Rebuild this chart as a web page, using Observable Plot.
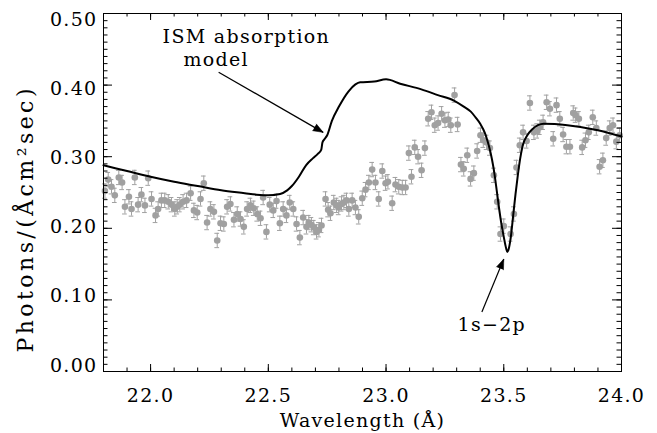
<!DOCTYPE html>
<html>
<head>
<meta charset="utf-8">
<script src="https://cdn.jsdelivr.net/npm/d3@7"></script>
<script src="https://cdn.jsdelivr.net/npm/@observablehq/plot@0.6"></script>
<style>
  html, body { margin: 0; padding: 0; background: #fff; }
  #chart svg { display: block; }
</style>
</head>
<body>
<div id="chart"></div>
<script>
// ---- Data ----
const wavelength = [
  21.806,21.820,21.834,21.848,21.865,21.879,21.891,21.908,21.919,21.933,
  21.947,21.961,21.976,21.990,22.004,22.021,22.032,22.046,22.060,22.075,
  22.089,22.103,22.113,22.124,22.138,22.153,22.170,22.184,22.198,22.212,
  22.226,22.240,22.254,22.269,22.283,22.297,22.311,22.325,22.339,22.354,
  22.368,22.382,22.396,22.410,22.424,22.438,22.453,22.467,
  22.478,22.492,22.506,22.521,22.535,22.549,22.563,22.577,22.591,22.606,
  22.620,22.634,22.648,22.662,22.672,22.683,22.693,22.705,22.715,22.726,
  22.743,22.754,22.764,22.778,22.790,22.799,22.811,22.821,22.832,22.842,
  22.856,22.870,22.884,22.899,22.913,22.927,22.941,22.955,22.969,22.984,
  22.998,23.008,23.026,23.040,23.054,23.069,23.083,
  23.097,23.108,23.122,23.136,23.151,23.165,23.179,23.193,23.207,23.221,
  23.236,23.250,23.264,23.275,23.291,23.304,23.318,23.330,23.345,23.359,
  23.373,23.387,23.401,23.413,23.427,23.441,23.458,23.472,23.486,23.500,
  23.529,23.543,
  23.554,23.568,23.582,23.597,23.611,23.628,23.642,23.653,23.667,23.682,
  23.696,23.710,23.724,23.738,23.752,23.766,23.781,23.795,23.805,23.819,
  23.833,23.847,23.861,23.878,23.893,23.907,23.921,23.935,23.950,23.964,
  23.978,23.992
];
const flux = [
  0.252,0.268,0.258,0.246,0.271,0.264,0.230,0.244,0.227,0.271,
  0.233,0.247,0.232,0.270,0.241,0.218,0.227,0.239,0.239,0.237,
  0.233,0.227,0.230,0.233,0.237,0.239,0.249,0.225,0.222,0.241,
  0.263,0.208,0.227,0.223,0.183,0.207,0.206,0.230,0.234,0.212,
  0.220,0.213,0.202,0.227,0.232,0.228,0.220,0.214,
  0.243,0.195,0.233,0.225,0.238,0.207,0.227,0.218,0.236,0.227,
  0.206,0.187,0.215,0.202,0.208,0.205,0.201,0.195,0.198,0.204,
  0.241,0.226,0.221,0.236,0.232,0.229,0.234,0.236,0.239,0.227,
  0.239,0.229,0.216,0.242,0.254,0.264,0.282,0.264,0.241,0.280,
  0.263,0.265,0.235,0.261,0.258,0.257,0.257,
  0.305,0.272,0.313,0.300,0.281,0.312,0.353,0.362,0.344,0.347,
  0.360,0.351,0.352,0.344,0.386,0.345,0.289,0.283,0.302,0.269,
  0.277,0.308,0.330,0.323,0.320,0.312,0.274,0.237,0.192,0.203,
  0.192,0.220,
  0.285,0.316,0.334,0.322,0.375,0.334,0.336,0.341,0.348,0.376,
  0.367,0.325,0.372,0.353,0.331,0.314,0.314,0.361,0.358,0.353,
  0.313,0.323,0.334,0.355,0.340,0.286,0.295,0.326,0.340,0.344,
  0.321,0.330
];
const fluxError = 0.010;

const modelWavelength = [
  21.80,21.90,22.00,22.10,22.20,22.30,22.40,22.45,22.50,22.55,
  22.58,22.60,22.63,22.66,22.69,22.71,22.725,22.73,22.74,22.75,
  22.77,22.80,22.84,22.87,22.89,22.95,23.00,23.06,23.15,23.22,
  23.29,23.33,23.36,23.38,23.40,23.42,23.43,23.44,23.45,23.46,
  23.47,23.48,23.49,23.50,23.51,23.515,23.52,23.53,23.54,23.55,
  23.56,23.57,23.58,23.60,23.62,23.67,23.77,23.90,24.00
];
const modelFlux = [
  0.288,0.280,0.272,0.265,0.259,0.253,0.249,0.247,0.246,0.248,
  0.253,0.259,0.272,0.288,0.298,0.304,0.310,0.320,0.325,0.330,
  0.350,0.370,0.391,0.401,0.404,0.405,0.408,0.402,0.394,0.386,
  0.378,0.370,0.363,0.355,0.346,0.333,0.323,0.311,0.296,0.277,
  0.253,0.228,0.206,0.188,0.172,0.167,0.170,0.188,0.218,0.248,
  0.275,0.298,0.315,0.330,0.338,0.346,0.344,0.337,0.328
];

const xMajorTicks = [22.0, 22.5, 23.0, 23.5, 24.0];
const yMajorTicks = [0.0, 0.1, 0.2, 0.3, 0.4, 0.5];
const xMinorTicks = d3.range(21.8, 24.0001, 0.1);
const yMinorTicks = d3.range(0, 0.5001, 0.01);

const xTitle = "Wavelength (\u00C5)";
const yTitle = "Photons/(\u00C5cm\u00B2sec)";
const annotationText = [
  {label: "ISM absorption", x: 22.051, y: 0.467},
  {label: "model",          x: 22.140, y: 0.4355},
  {label: "1s\u22122p",     x: 23.3035, y: 0.065}
];
const arrowLines = [
  {x1: 22.289, y1: 0.418, x2: 22.733, y2: 0.334},
  {x1: 23.407, y1: 0.083, x2: 23.500, y2: 0.157}
];

// ---- Layout ----
const W = 657, H = 433;
const margin = {left: 103, right: 36, top: 13, bottom: 62};
const plotW = W - margin.left - margin.right;
const plotH = H - margin.top - margin.bottom;
const xDomain = [21.8, 24.0], yDomain = [0, 0.5];
const grey = "#a0a0a0";
const capHalf = 0.010;

const points = wavelength.map((x, i) => ({x, y: flux[i]}));
const model = modelWavelength.map((x, i) => ({x, y: modelFlux[i]}));

const xs = Plot.scale({x: {domain: xDomain, range: [margin.left, W - margin.right]}});
const ys = Plot.scale({y: {domain: yDomain, range: [H - margin.bottom, margin.top]}});
const headRotate = a => {
  const dx = xs.apply(a.x2) - xs.apply(a.x1);
  const dy = ys.apply(a.y2) - ys.apply(a.y1);
  return Math.atan2(dx, -dy) * 180 / Math.PI;
};
// y title placed left of the frame, slightly below its middle (as in the reference)
const yTitlePos = [{label: yTitle, x: xs.invert(25), y: ys.invert(220)}];
// IDL-style y tick labels sit slightly toward the middle of the axis
const yLabelPos = v => ys.invert(19 + (0.5 - v) * 692);

const chart = Plot.plot({
  width: W,
  height: H,
  marginLeft: margin.left,
  marginRight: margin.right,
  marginTop: margin.top,
  marginBottom: margin.bottom,
  x: {domain: xDomain},
  y: {domain: yDomain, axis: null},
  style: {fontFamily: "'DejaVu Serif', serif", fontSize: "19px", letterSpacing: "1.3px", background: "white", color: "black", overflow: "visible"},
  marks: [
    // error bars
    Plot.ruleX(points, {x: "x", y1: d => d.y - fluxError, y2: d => d.y + fluxError, stroke: grey, strokeWidth: 1}),
    Plot.ruleY(points, {y: d => d.y + fluxError, x1: d => d.x - capHalf, x2: d => d.x + capHalf, stroke: grey, strokeWidth: 1}),
    Plot.ruleY(points, {y: d => d.y - fluxError, x1: d => d.x - capHalf, x2: d => d.x + capHalf, stroke: grey, strokeWidth: 1}),
    Plot.dot(points, {x: "x", y: "y", r: 3.3, fill: grey, stroke: null}),
    // model curve
    Plot.line(model, {x: "x", y: "y", stroke: "black", strokeWidth: 2, curve: "monotone-x"}),
    // inward ticks on all four sides
    Plot.tickX(xMinorTicks, {x: d => d, insetTop: plotH - 3.5, stroke: "black"}),
    Plot.tickX(xMinorTicks, {x: d => d, insetBottom: plotH - 3.5, stroke: "black"}),
    Plot.tickX(xMajorTicks, {x: d => d, insetTop: plotH - 7, stroke: "black"}),
    Plot.tickX(xMajorTicks, {x: d => d, insetBottom: plotH - 7, stroke: "black"}),
    Plot.tickY(yMinorTicks, {y: d => d, insetRight: plotW - 4.5, stroke: "black"}),
    Plot.tickY(yMinorTicks, {y: d => d, insetLeft: plotW - 4.5, stroke: "black"}),
    Plot.tickY(yMajorTicks, {y: d => d, insetRight: plotW - 9, stroke: "black"}),
    Plot.tickY(yMajorTicks, {y: d => d, insetLeft: plotW - 9, stroke: "black"}),
    Plot.frame({stroke: "black", strokeWidth: 1}),
    // tick labels
    Plot.axisX(xMajorTicks, {anchor: "bottom", tickSize: 0, tickPadding: 17, tickFormat: d3.format(".1f"), label: null}),
    Plot.text(yMajorTicks, {y: yLabelPos, text: d3.format(".2f"), frameAnchor: "left", textAnchor: "end", lineAnchor: "middle", dx: -6, fill: "black"}),
    // axis titles
    Plot.text([xTitle], {frameAnchor: "bottom", textAnchor: "middle", lineAnchor: "middle", dy: 49, fill: "black"}),
    Plot.text(yTitlePos, {x: "x", y: "y", text: "label", textAnchor: "middle", lineAnchor: "middle", rotate: -90, fontSize: 22, fill: "black"}),
    // annotations
    Plot.text(annotationText, {x: "x", y: "y", text: "label", textAnchor: "start", lineAnchor: "middle", fill: "black"}),
    Plot.link(arrowLines, {x1: "x1", y1: "y1", x2: "x2", y2: "y2", stroke: "black", strokeWidth: 1.2}),
    Plot.vector(arrowLines, {x: "x2", y: "y2", rotate: headRotate, length: 10, r: 3.8, shape: "spike", anchor: "end", fill: "black", stroke: "black", strokeWidth: 0.5})
  ]
});

document.getElementById("chart").appendChild(chart);
chart.querySelectorAll("text").forEach(t => {
  if (t.textContent === yTitle) {
    t.style.letterSpacing = "0px";
    t.setAttribute("textLength", "264");
    t.setAttribute("lengthAdjust", "spacing");
  }
});
</script>
</body>
</html>
